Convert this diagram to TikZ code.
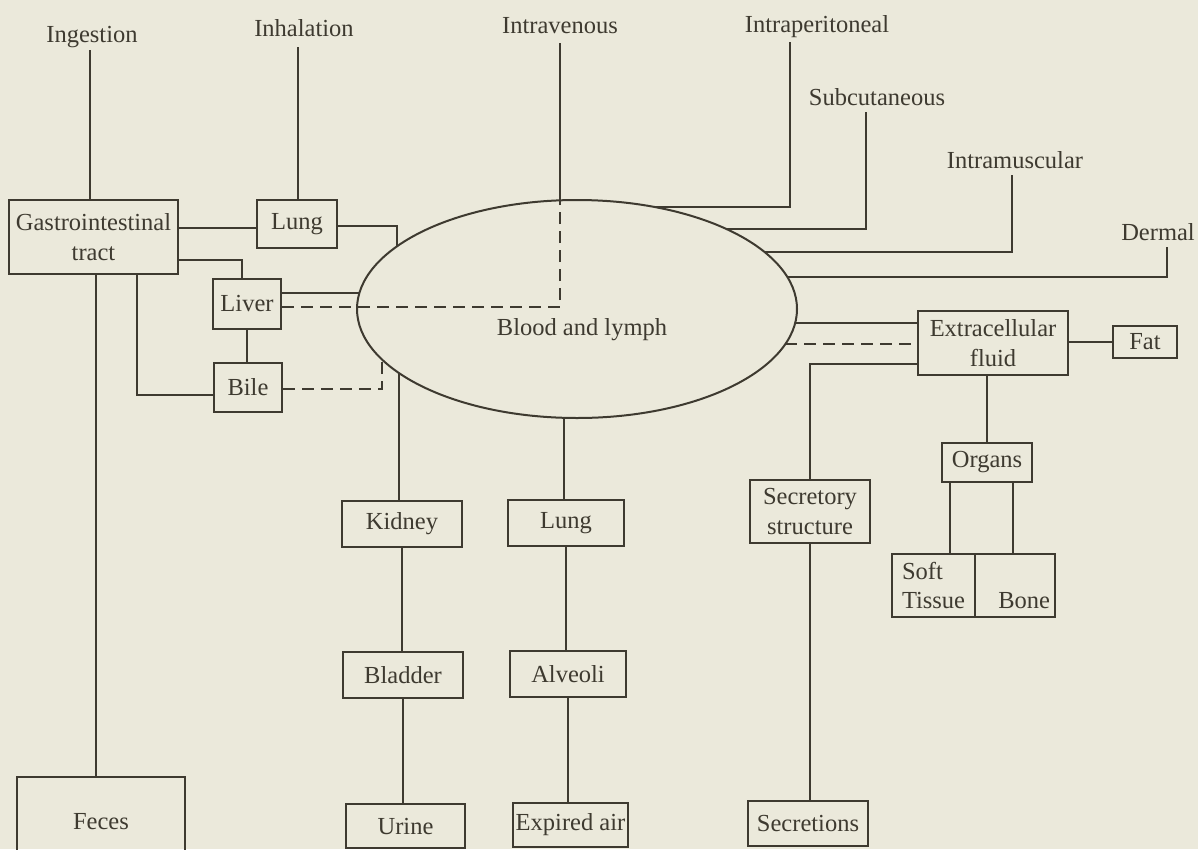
\documentclass[tikz,border=0pt]{standalone}
\usepackage{fontspec}
\setmainfont{Liberation Serif}
\usetikzlibrary{shapes.geometric,calc}
\definecolor{paper}{RGB}{235,233,219}
\definecolor{ink}{RGB}{62,58,48}
\newcommand{\diafont}{\fontsize{24.5}{29.5}\selectfont}
\begin{document}
\begin{tikzpicture}[x=1pt,y=-1pt,
  dbox/.style={draw=ink, line width=2pt, inner sep=0pt, align=center, text=ink, font=\diafont},
  lbl/.style={text=ink, inner sep=0pt, font=\diafont},
  conn/.style={draw=ink, line width=2pt},
  dconn/.style={conn, dash pattern=on 12pt off 7pt}]
\useasboundingbox (0,0) rectangle (1198,849);
\clip (0,0) rectangle (1198,849);
\fill[paper] (0,0) rectangle (1198,849);

% central ellipse
\node[draw=ink, line width=2pt, ellipse, minimum width=440pt, minimum height=218pt, inner sep=0pt] (blood) at (577,309) {};
\node[lbl] (bloodtxt) at (582,330) {Blood and lymph};

% route labels
\node[lbl, anchor=base] (ingestion) at (92,42) {Ingestion};
\node[lbl, anchor=base] (inhalation) at (304,36) {Inhalation};
\node[lbl, anchor=base] (intravenous) at (560,33) {Intravenous};
\node[lbl, anchor=base] (intraperitoneal) at (817,32) {Intraperitoneal};
\node[lbl, anchor=base] (subcutaneous) at (877,105) {Subcutaneous};
\node[lbl, anchor=base] (intramuscular) at (1015,168) {Intramuscular};
\node[lbl, anchor=base] (dermal) at (1158,240) {Dermal};

% boxes
\node[dbox, minimum width=169pt, minimum height=74pt] (gi) at (93.5,237) {Gastrointestinal\\tract};
\node[dbox, minimum width=80pt, minimum height=48pt] (lung1) at (297,224) {Lung};
\node[dbox, minimum width=68pt, minimum height=50pt] (liver) at (247,304) {Liver};
\node[dbox, minimum width=68pt, minimum height=49pt] (bile) at (248,387.5) {Bile};
\node[dbox, minimum width=168pt, minimum height=90pt] (feces) at (101,822) {Feces};
\node[dbox, minimum width=120pt, minimum height=46pt] (kidney) at (402,524) {Kidney};
\node[dbox, minimum width=116pt, minimum height=46pt] (lung2) at (566,523) {Lung};
\node[dbox, minimum width=120pt, minimum height=46pt] (bladder) at (403,675) {Bladder};
\node[dbox, minimum width=116pt, minimum height=46pt] (alveoli) at (568,674) {Alveoli};
\node[dbox, minimum width=119pt, minimum height=44pt] (urine) at (405.5,826) {Urine};
\node[dbox, minimum width=115pt, minimum height=44pt] (expired) at (570.5,825) {Expired air};
\node[dbox, minimum width=120pt, minimum height=63pt] (secretory) at (810,511.5) {Secretory\\structure};
\node[dbox, minimum width=120pt, minimum height=45pt] (secretions) at (808,823.5) {Secretions};
\node[dbox, minimum width=150pt, minimum height=64pt] (ecf) at (993,343) {Extracellular\\fluid};
\node[dbox, minimum width=64pt, minimum height=32pt] (fat) at (1145,342) {Fat};
\node[dbox, minimum width=90pt, minimum height=39pt] (organs) at (987,462.5) {Organs};
\node[dbox, minimum width=83pt, minimum height=63pt, text width=63pt, inner xsep=10pt, align=left] (soft) at (933.5,585.5) {Soft\\Tissue};
\node[dbox, minimum width=80pt, minimum height=63pt, text width=70pt, inner xsep=5pt, align=right] (bone) at (1015,585.5) {\phantom{Soft}\\Bone};

% junction points on the ellipse
\coordinate (e-iv) at (560,200);
\coordinate (e-ip) at (655,207);
\coordinate (e-sc) at (726,229);
\coordinate (e-im) at (765,252);
\coordinate (e-de) at (787,277);
\coordinate (e-ecf) at (795,323);
\coordinate (e-ecfd) at (785,344);
\coordinate (e-lung) at (397,246);
\coordinate (e-liver) at (359,293);
\coordinate (e-bile) at (382,360);
\coordinate (e-kid) at (399,373);
\coordinate (e-lung2) at (564,418);

% line starts under the labels
\coordinate (ingT) at ([xshift=-2pt,yshift=-8pt]ingestion.base);
\coordinate (inhT) at ([xshift=-6pt,yshift=-11pt]inhalation.base);
\coordinate (ivT) at ([yshift=-10pt]intravenous.base);
\coordinate (ipT) at ([xshift=-27pt,yshift=-10pt]intraperitoneal.base);
\coordinate (scT) at ([xshift=-11pt,yshift=-7pt]subcutaneous.base);
\coordinate (imT) at ([xshift=-3pt,yshift=-7pt]intramuscular.base);
\coordinate (deT) at ([xshift=9pt,yshift=-7pt]dermal.base);
\coordinate (giF) at ([xshift=2.5pt]gi.south);
\coordinate (orS) at ([xshift=-37pt]organs.south);
\coordinate (orB) at ([xshift=26pt]organs.south);

% left side
\draw[conn] (ingT) -- (ingT |- gi.north);
\draw[conn] (inhT) -- (inhT |- lung1.north);
\draw[conn] ([yshift=9pt]gi.east) -- ([yshift=-4pt]lung1.west);
\draw[conn] ([yshift=-2pt]lung1.east) -| (e-lung);
\draw[conn] ([yshift=-23pt]gi.east) -| ([xshift=-5pt]liver.north);
\draw[conn] ([yshift=11pt]liver.east) -- (e-liver);
\draw[dconn] ([yshift=-3pt]liver.east) -| (e-iv);
\draw[conn] (liver.south) -- (liver.south |- bile.north);
\draw[conn] ([xshift=43.5pt]gi.south) |- ([yshift=-7.5pt]bile.west);
\draw[dconn] ([yshift=-1.5pt]bile.east) -| (e-bile);
\draw[conn] (giF) -- (giF |- feces.north);

% top routes
\draw[conn] (ivT) -- (e-iv);
\draw[conn] (ipT) |- (e-ip);
\draw[conn] (scT) |- (e-sc);
\draw[conn] (imT) |- (e-im);
\draw[conn] (deT) |- (e-de);

% right side
\draw[conn] (e-ecf) -- (e-ecf -| ecf.west);
\draw[dconn] (e-ecfd) -- (e-ecfd -| ecf.west);
\draw[conn] ([yshift=-21pt]ecf.west) -| (secretory.north);
\draw[conn] (ecf.east |- fat.west) -- (fat.west);
\draw[conn] (ecf.south -| organs.north) -- (organs.north);
\draw[conn] (secretory.south) -- (secretory.south |- secretions.north);
\draw[conn] (orS) -- (orS |- soft.north);
\draw[conn] (orB) -- (orB |- bone.north);

% bottom
\draw[conn] (e-kid) -- (e-kid |- kidney.north);
\draw[conn] (kidney.south) -- (kidney.south |- bladder.north);
\draw[conn] (bladder.south) -- (bladder.south |- urine.north);
\draw[conn] (e-lung2) -- (e-lung2 |- lung2.north);
\draw[conn] (lung2.south) -- (lung2.south |- alveoli.north);
\draw[conn] (alveoli.south) -- (alveoli.south |- expired.north);
\end{tikzpicture}
\end{document}
